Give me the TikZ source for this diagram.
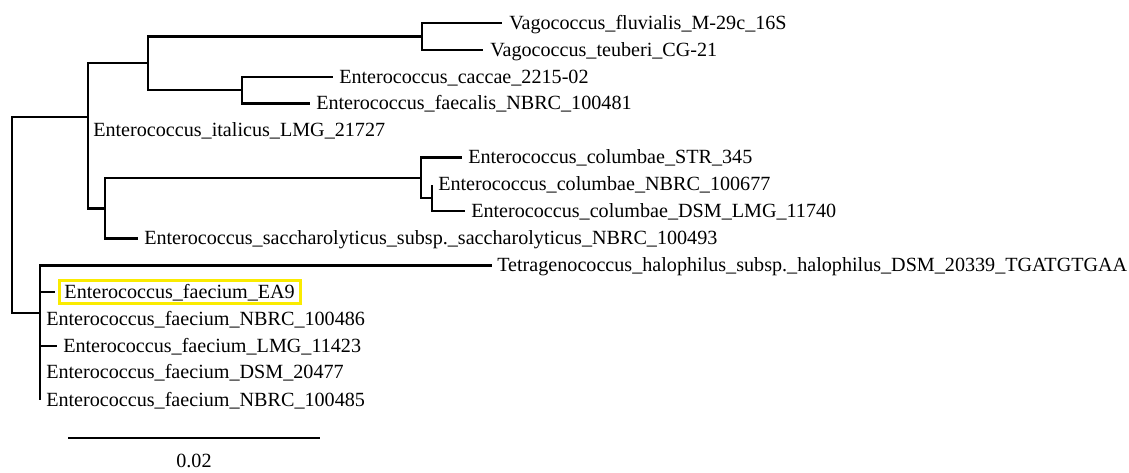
\documentclass[tikz,border=0pt]{standalone}
\usepackage{fontspec}
\setmainfont{Liberation Serif}
\definecolor{hlyellow}{RGB}{250,235,0}
\begin{document}
\begin{tikzpicture}[x=0.75pt,y=-0.75pt,
  br/.style={line width=2.2pt, line join=miter},
  lab/.style={anchor=base west, inner sep=0pt, font=\fontsize{15.1}{18}\selectfont},
  hl/.style={draw=hlyellow, line width=2.25pt, inner xsep=4.1pt, inner ysep=3pt, text height=10.5pt, text depth=0.8pt}]
\useasboundingbox (0,0) rectangle (1129,472);
% internal nodes
\coordinate (R) at (12,215);
\coordinate (A) at (88,117);
\coordinate (B) at (148,63);
\coordinate (V) at (422,36.5);
\coordinate (C) at (242,90);
\coordinate (D) at (105,208.5);
\coordinate (E) at (421,178);
\coordinate (F) at (432,198);
\coordinate (G) at (40,313);
% tips
\coordinate (t1) at (502,23);
\coordinate (t2) at (483,50);
\coordinate (t3) at (333,77);
\coordinate (t4) at (310,103.5);
\coordinate (t5) at (88,130.5);
\coordinate (t6) at (462,157.5);
\coordinate (t7) at (432,184.5);
\coordinate (t8) at (465,211);
\coordinate (t9) at (138,238.5);
\coordinate (t10) at (492,265.5);
\coordinate (t11) at (55,292);
\coordinate (t12) at (40,319);
\coordinate (t13) at (57,346);
\coordinate (t14) at (40,372.5);
\coordinate (t15) at (40,400);
% branches
\draw[br] (R) |- (A);
\draw[br] (R) |- (G);
\draw[br] (A) |- (B);
\draw[br] (A) |- (t5);
\draw[br] (A) |- (D);
\draw[br] (B) |- (V);
\draw[br] (B) |- (C);
\draw[br] (V) |- (t1);
\draw[br] (V) |- (t2);
\draw[br] (C) |- (t3);
\draw[br] (C) |- (t4);
\draw[br] (D) |- (E);
\draw[br] (D) |- (t9);
\draw[br] (E) |- (t6);
\draw[br] (E) |- (F);
\draw[br] (F) |- (t7);
\draw[br] (F) |- (t8);
\draw[br] (G) |- (t10);
\draw[br] (G) |- (t11);
\draw[br] (G) |- (t12);
\draw[br] (G) |- (t13);
\draw[br] (G) |- (t14);
\draw[br] (G) |- (t15);
% labels
\node[lab] (l1) at ([shift={(7,6)}]t1) {Vagococcus\_fluvialis\_M-29c\_16S};
\node[lab] (l2) at ([shift={(7,6)}]t2) {Vagococcus\_teuberi\_CG-21};
\node[lab] (l3) at ([shift={(6,6)}]t3) {Enterococcus\_caccae\_2215-02};
\node[lab] (l4) at ([shift={(6,6)}]t4) {Enterococcus\_faecalis\_NBRC\_100481};
\node[lab] (l5) at ([shift={(5,6)}]t5) {Enterococcus\_italicus\_LMG\_21727};
\node[lab] (l6) at ([shift={(6,6)}]t6) {Enterococcus\_columbae\_STR\_345};
\node[lab] (l7) at ([shift={(6,6)}]t7) {Enterococcus\_columbae\_NBRC\_100677};
\node[lab] (l8) at ([shift={(6,6)}]t8) {Enterococcus\_columbae\_DSM\_LMG\_11740};
\node[lab] (l9) at ([shift={(6,6)}]t9) {Enterococcus\_saccharolyticus\_subsp.\_saccharolyticus\_NBRC\_100493};
\node[lab] (l10) at ([shift={(5,6)}]t10) {Tetragenococcus\_halophilus\_subsp.\_halophilus\_DSM\_20339\_TGATGTGAA};
\node[lab,hl] (l11) at ([shift={(2.5,6)}]t11) {Enterococcus\_faecium\_EA9};
\node[lab] (l12) at ([shift={(6,6)}]t12) {Enterococcus\_faecium\_NBRC\_100486};
\node[lab] (l13) at ([shift={(6,6)}]t13) {Enterococcus\_faecium\_LMG\_11423};
\node[lab] (l14) at ([shift={(6,6)}]t14) {Enterococcus\_faecium\_DSM\_20477};
\node[lab] (l15) at ([shift={(6,6)}]t15) {Enterococcus\_faecium\_NBRC\_100485};
% scale bar
\coordinate (s1) at (68,438);
\coordinate (s2) at (320,438);
\draw[br] (s1) -- (s2);
\node[lab, anchor=base] (sl) at (194,467) {0.02};
\end{tikzpicture}
\end{document}
